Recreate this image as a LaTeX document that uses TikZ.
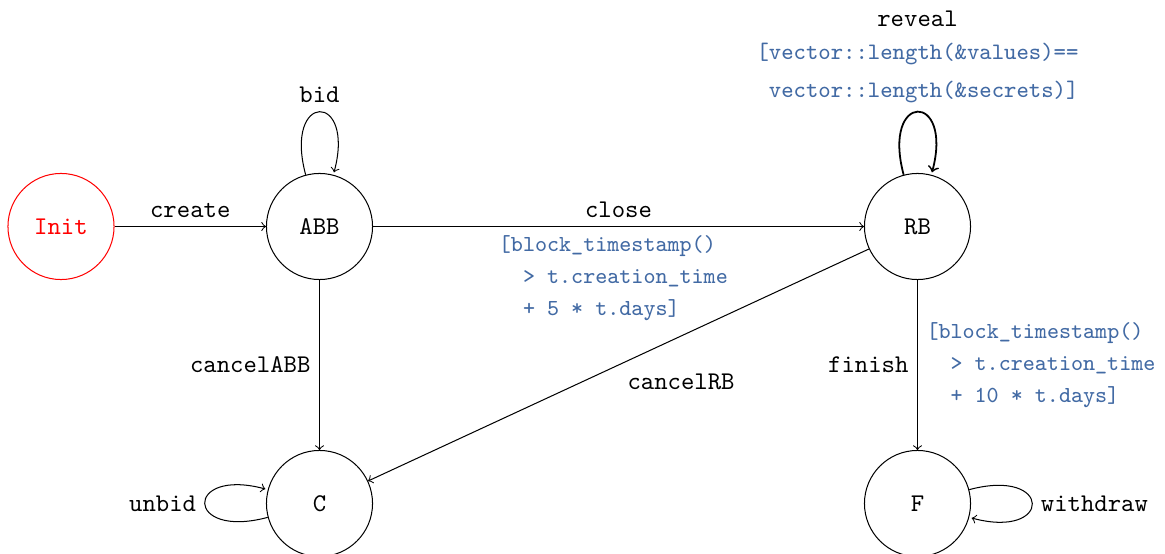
\documentclass[tikz,border=0pt]{standalone}
\usetikzlibrary{arrows}
\definecolor{guardblue}{RGB}{66,106,164}
\begin{document}
\begin{tikzpicture}[x=0.392157pt, y=0.392157pt,
  state/.style={circle, draw, minimum size=41.6pt, inner sep=0pt, font=\ttfamily},
  trans/.style={->, >=to},
  lbl/.style={font=\ttfamily},
  guard/.style={font=\ttfamily\fontsize{9}{12.5}\selectfont, text=guardblue, align=left}]
\useasboundingbox (0,0) rectangle (1165,554);

% states
\node[state, draw=red, text=red] (init) at (61,327.5) {Init};
\node[state] (abb) at (319.5,327.5) {ABB};
\node[state] (rb)  at (917.5,327.5) {RB};
\node[state] (c)   at (319.5,50.5)  {C};
\node[state] (f)   at (917.5,50.5)  {F};

% transitions
\draw[trans] (init) -- node[above, lbl] {create} (abb);
\draw[trans] (abb) -- node[above, lbl] {close}
  node[below, guard, xshift=-2pt] {[block\_timestamp()\\\mbox{\ \ }> t.creation\_time\\\mbox{\ \ }+ 5 * t.days]} (rb);
\draw[trans] (abb) -- node[left, lbl] {cancelABB} (c);
\draw[trans] (rb) -- node[below right, lbl] {cancelRB} (c);
\draw[trans] (rb) -- node[left, lbl] {finish}
  node[right, guard] {[block\_timestamp()\\\mbox{\ \ }> t.creation\_time\\\mbox{\ \ }+ 10 * t.days]} (f);

% self loops
\path (abb) edge[trans, loop above] node[above, lbl] {bid} (abb);
\path (rb) edge[trans, loop above, line width=0.7pt]
  node[above, guard, align=center, font=\ttfamily\fontsize{9.25}{12.5}\selectfont] (rg)
  {[vector::length(\&values)==\\[2.5pt]\mbox{\ }vector::length(\&secrets)]} (rb);
\node[lbl, anchor=south, yshift=-1pt] (rv) at (rg.north) {reveal};
\path (c) edge[trans, loop left] node[left, lbl] {unbid} (c);
\path (f) edge[trans, loop right] node[right, lbl] {withdraw} (f);
\end{tikzpicture}
\end{document}
